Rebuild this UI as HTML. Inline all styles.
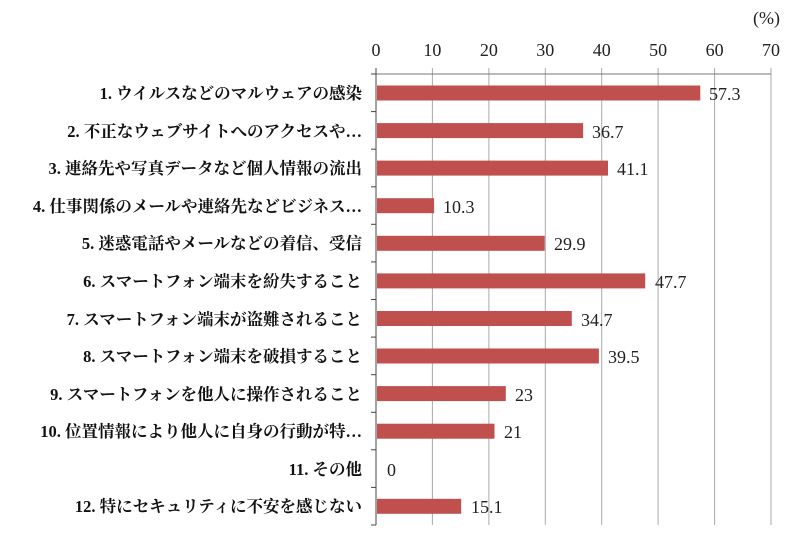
<!DOCTYPE html>
<html><head><meta charset="utf-8"><style>
body{margin:0;background:#fff;}
svg text{font-family:"Liberation Serif","Noto Serif CJK SC",serif;}
</style></head><body>
<svg width="800" height="545" xmlns="http://www.w3.org/2000/svg">
<rect width="800" height="545" fill="#fff"/>
<text x="780" y="24" font-size="18" text-anchor="end" fill="#222">(%)</text>
<g font-size="18" fill="#222" text-anchor="middle">
<text x="376" y="56">0</text><text x="432.4" y="56">10</text><text x="488.9" y="56">20</text><text x="545.3" y="56">30</text><text x="601.7" y="56">40</text><text x="658.1" y="56">50</text><text x="714.6" y="56">60</text><text x="771" y="56">70</text>
</g>
<g stroke="#aaa" stroke-width="1">
<line x1="432.4" y1="68" x2="432.4" y2="525"/><line x1="488.9" y1="68" x2="488.9" y2="525"/><line x1="545.3" y1="68" x2="545.3" y2="525"/><line x1="601.7" y1="68" x2="601.7" y2="525"/><line x1="658.1" y1="68" x2="658.1" y2="525"/><line x1="714.6" y1="68" x2="714.6" y2="525"/><line x1="771" y1="68" x2="771" y2="525"/>
</g>
<line x1="376" y1="74" x2="771" y2="74" stroke="#777"/>
<line x1="376" y1="68" x2="376" y2="525" stroke="#444"/>
<g stroke="#444">
<line x1="371" y1="74" x2="376" y2="74"/><line x1="371" y1="111.6" x2="376" y2="111.6"/><line x1="371" y1="149.2" x2="376" y2="149.2"/><line x1="371" y1="186.8" x2="376" y2="186.8"/><line x1="371" y1="224.3" x2="376" y2="224.3"/><line x1="371" y1="261.9" x2="376" y2="261.9"/><line x1="371" y1="299.5" x2="376" y2="299.5"/><line x1="371" y1="337.1" x2="376" y2="337.1"/><line x1="371" y1="374.7" x2="376" y2="374.7"/><line x1="371" y1="412.3" x2="376" y2="412.3"/><line x1="371" y1="449.8" x2="376" y2="449.8"/><line x1="371" y1="487.4" x2="376" y2="487.4"/><line x1="371" y1="525" x2="376" y2="525"/>
</g>
<g fill="#c0504d">
<rect x="377" y="85.5" width="323.3" height="15"/>
<rect x="377" y="123.1" width="206.1" height="15"/>
<rect x="377" y="160.6" width="231" height="15"/>
<rect x="377" y="198.2" width="57.1" height="15"/>
<rect x="377" y="235.8" width="167.7" height="15"/>
<rect x="377" y="273.4" width="268.2" height="15"/>
<rect x="377" y="311" width="194.8" height="15"/>
<rect x="377" y="348.5" width="221.9" height="15"/>
<rect x="377" y="386.1" width="128.8" height="15"/>
<rect x="377" y="423.7" width="117.5" height="15"/>
<rect x="377" y="498.8" width="84.2" height="15"/>
</g>
<g font-size="18" fill="#222">
<text x="709" y="100">57.3</text><text x="592" y="138">36.7</text><text x="617" y="175">41.1</text><text x="443" y="213">10.3</text><text x="554" y="250">29.9</text><text x="655" y="288">47.7</text><text x="581" y="326">34.7</text><text x="608" y="363">39.5</text><text x="515" y="401">23</text><text x="504" y="438">21</text><text x="387" y="476">0</text><text x="471" y="513">15.1</text>
</g>
<g font-size="16.5" font-weight="bold" fill="#111" text-anchor="end">
<text x="362" y="99">1. ウイルスなどのマルウェアの感染</text>
<text x="362" y="137">2. 不正なウェブサイトへのアクセスや…</text>
<text x="362" y="174">3. 連絡先や写真データなど個人情報の流出</text>
<text x="362" y="212">4. 仕事関係のメールや連絡先などビジネス…</text>
<text x="362" y="249">5. 迷惑電話やメールなどの着信、受信</text>
<text x="362" y="287">6. スマートフォン端末を紛失すること</text>
<text x="362" y="325">7. スマートフォン端末が盗難されること</text>
<text x="362" y="362">8. スマートフォン端末を破損すること</text>
<text x="362" y="400">9. スマートフォンを他人に操作されること</text>
<text x="362" y="437">10. 位置情報により他人に自身の行動が特…</text>
<text x="362" y="475">11. その他</text>
<text x="362" y="512">12. 特にセキュリティに不安を感じない</text>
</g>
</svg>
</body></html>
